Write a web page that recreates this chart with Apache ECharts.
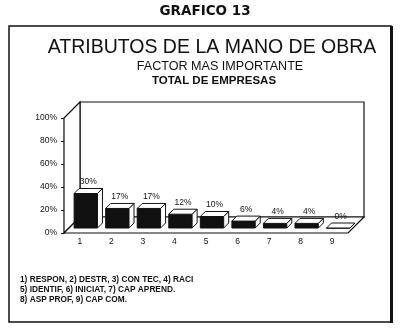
<!DOCTYPE html>
<html>
<head>
<meta charset="utf-8">
<script src="https://cdn.jsdelivr.net/npm/echarts@6/dist/echarts.min.js"></script>
<style>
  html, body { margin: 0; padding: 0; background: #fff; }
  #chart { width: 400px; height: 335px; }
</style>
</head>
<body>
<div id="chart"></div>
<script>
// Categories (factor numbers) and the share of firms naming each one
const categories = ['1', '2', '3', '4', '5', '6', '7', '8', '9'];
const values = [30, 17, 17, 12, 10, 6, 4, 4, 0];

// Value axis range
const yMin = 0;
const yMax = 100;
const yStep = 20;

// Key to the category numbers
const notes = [
  '1) RESPON, 2) DESTR, 3) CON TEC, 4) RACI',
  '5) IDENTIF, 6) INICIAT, 7) CAP APREND.',
  '8) ASP PROF, 9) CAP COM.'
];

const FONT = '"Liberation Sans", Arial, sans-serif';
const INK = '#111';

const chart = echarts.init(document.getElementById('chart'), null, { renderer: 'canvas' });

// Box room: back wall, left side wall and floor, drawn around the grid rectangle
const WALL_DEPTH = 16;
function renderRoom(params, api) {
  const cs = params.coordSys;
  const x0 = cs.x, y0 = cs.y, x1 = cs.x + cs.width, y1 = cs.y + cs.height;
  const d = WALL_DEPTH;
  const st = { fill: '#fff', stroke: INK, lineWidth: 1.2 };
  return {
    type: 'group',
    children: [
      { type: 'polygon', shape: { points: [[x0 + d, y0 - d], [x1 + d, y0 - d], [x1 + d, y1 - d], [x0 + d, y1 - d]] }, style: st },
      { type: 'polygon', shape: { points: [[x0, y0], [x0 + d, y0 - d], [x0 + d, y1 - d], [x0, y1]] }, style: st },
      { type: 'polygon', shape: { points: [[x0, y1], [x0 + d, y1 - d], [x1 + d, y1 - d], [x1, y1]] }, style: st }
    ]
  };
}

// Solid black box with white top and right faces, plus its value label
function renderBox(params, api) {
  const i = api.value(0);
  const v = api.value(1);
  const top = api.coord([i, v]);
  const base = api.coord([i, 0]);
  const band = api.size([1, 0])[0];
  const w = band * 0.74;
  const ox = 6, oy = -5;   // set back from the front edge of the floor
  const dx = 5, dy = -5;   // depth of each box
  const x = top[0] - w / 2 + ox;
  const yt = top[1] + oy;
  const yb = base[1] + oy;
  const line = { stroke: INK, lineWidth: 1 };
  return {
    type: 'group',
    children: [
      { type: 'rect', shape: { x: x, y: yt, width: w, height: yb - yt }, style: Object.assign({ fill: INK }, line) },
      { type: 'polygon', shape: { points: [[x + w, yt], [x + w + dx, yt + dy], [x + w + dx, yb + dy], [x + w, yb]] }, style: Object.assign({ fill: '#fff' }, line) },
      { type: 'polygon', shape: { points: [[x, yt], [x + dx, yt + dy], [x + w + dx, yt + dy], [x + w, yt]] }, style: Object.assign({ fill: '#fff' }, line) },
      {
        type: 'text',
        style: {
          text: v + '%',
          x: x + w / 2 + dx / 2,
          y: yt + dy - 2,
          align: 'center',
          verticalAlign: 'bottom',
          font: '8.5px ' + FONT,
          fill: INK
        }
      }
    ]
  };
}

const option = {
  backgroundColor: '#fff',
  animation: false,
  grid: { left: 64, top: 118, width: 284, height: 115, containLabel: false },
  xAxis: {
    type: 'category',
    data: categories,
    axisLine: { show: false },
    axisTick: { show: false },
    axisLabel: { color: INK, fontFamily: FONT, fontSize: 8.5, margin: 4 },
    splitLine: { show: false }
  },
  yAxis: {
    type: 'value',
    min: yMin,
    max: yMax,
    interval: yStep,
    axisLine: { show: true, lineStyle: { color: INK, width: 1.2 } },
    axisTick: { show: true, length: 3, lineStyle: { color: INK } },
    axisLabel: { formatter: '{value}%', color: INK, fontFamily: FONT, fontSize: 8.5, margin: 7 },
    splitLine: { show: false }
  },
  graphic: [
    { type: 'rect', z: -10, shape: { x: 9, y: 26, width: 382, height: 296 }, style: { fill: 'none', stroke: INK, lineWidth: 1.5 } },
    { type: 'rect', z: -10, shape: { x: 390, y: 26, width: 3, height: 297 }, style: { fill: INK } },
    { type: 'text', x: 205, y: 11, style: { text: 'GRAFICO 13', font: 'bold 13.5px "DejaVu Sans", sans-serif', fill: INK, align: 'center', verticalAlign: 'middle' } },
    { type: 'text', x: 212, y: 48, style: { text: 'ATRIBUTOS DE LA MANO DE OBRA', font: '19.5px ' + FONT, fill: INK, align: 'center', verticalAlign: 'middle' } },
    { type: 'text', x: 220, y: 67, style: { text: 'FACTOR MAS IMPORTANTE', font: '12.6px ' + FONT, fill: INK, align: 'center', verticalAlign: 'middle' } },
    { type: 'text', x: 214, y: 81, style: { text: 'TOTAL DE EMPRESAS', font: 'bold 11.5px ' + FONT, fill: INK, align: 'center', verticalAlign: 'middle' } },
    { type: 'text', x: 20, y: 280, style: { text: notes[0], font: 'bold 8.3px ' + FONT, fill: INK, align: 'left', verticalAlign: 'middle' } },
    { type: 'text', x: 20, y: 290, style: { text: notes[1], font: 'bold 8.3px ' + FONT, fill: INK, align: 'left', verticalAlign: 'middle' } },
    { type: 'text', x: 20, y: 300, style: { text: notes[2], font: 'bold 8.3px ' + FONT, fill: INK, align: 'left', verticalAlign: 'middle' } }
  ],
  series: [
    {
      type: 'custom',
      name: 'room',
      z: 1,
      silent: true,
      clip: false,
      renderItem: renderRoom,
      data: [[0, 0]]
    },
    {
      type: 'custom',
      name: 'FACTOR MAS IMPORTANTE',
      z: 3,
      clip: false,
      renderItem: renderBox,
      encode: { x: 0, y: 1 },
      data: values.map((v, i) => [i, v])
    }
  ]
};

chart.setOption(option);
</script>
</body>
</html>
